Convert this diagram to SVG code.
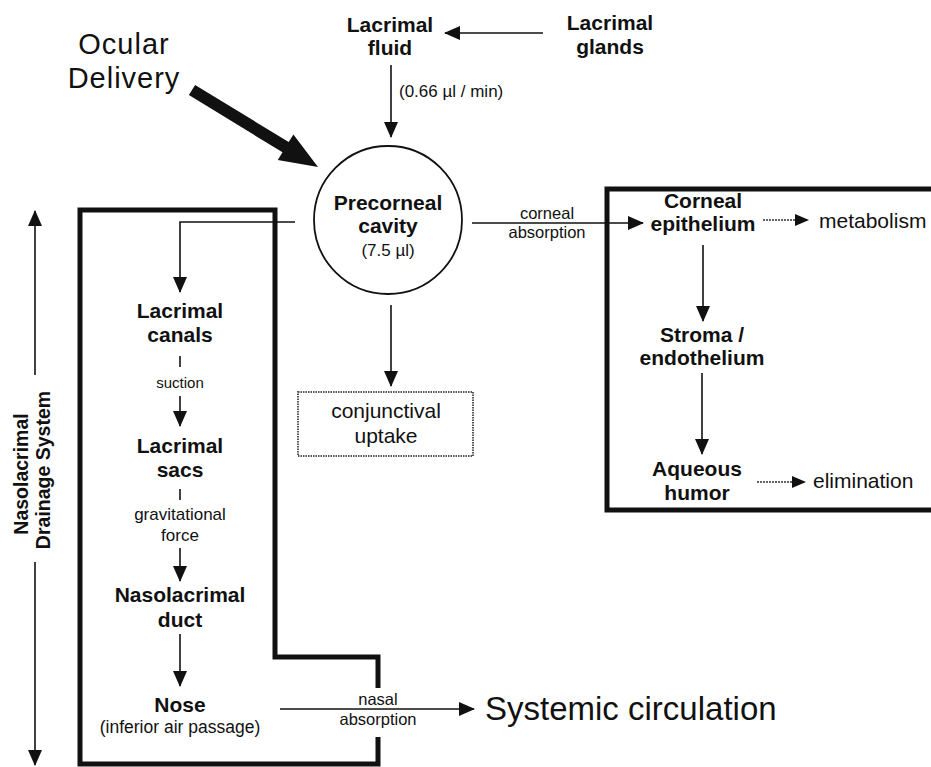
<svg xmlns="http://www.w3.org/2000/svg" width="931" height="767" viewBox="0 0 931 767">
  <style>
    text { font-family: "Liberation Sans", Arial, sans-serif; fill: #111; }
    .b { font-weight: bold; font-size: 21px; text-anchor: middle; }
    .s { font-size: 16.5px; text-anchor: middle; }
    .m { font-size: 21px; }
    .c { text-anchor: middle; }
    .big { font-size: 29px; letter-spacing: 1px; }
    .ln { stroke: #111; stroke-width: 1.6; fill: none; }
    .dot { stroke: #333; stroke-width: 1.6; stroke-dasharray: 2 1; fill: none; }
    .frame { stroke: #111; stroke-width: 5; fill: none; }
  </style>
  <defs>
    <marker id="ah" markerUnits="userSpaceOnUse" markerWidth="16" markerHeight="14" refX="15" refY="7" orient="auto">
      <path d="M0,0 L16,7 L0,14 Z" fill="#111"/>
    </marker>
    <marker id="ahs" markerUnits="userSpaceOnUse" markerWidth="14" markerHeight="12" refX="13" refY="6" orient="auto">
      <path d="M0,0 L14,6 L0,12 Z" fill="#111"/>
    </marker>
  </defs>

  <rect width="931" height="767" fill="#fff"/>

  <!-- region frames -->
  <g id="drainage-frame">
    <path class="frame" d="M378,688 V657 H275 V210 H80 V764 H378 V737"/>
  </g>
  <g id="cornea-frame">
    <rect class="frame" x="607" y="189" width="330" height="321"/>
  </g>

  <!-- connectors -->
  <g id="connectors">
    <polygon points="195.1,84.9 288.7,142.1 293.4,134.4 318,167 277.8,160 282.5,152.3 188.9,95.1" fill="#111"/>
    <line class="ln" x1="543" y1="33" x2="445" y2="33" marker-end="url(#ah)"/>
    <line class="ln" x1="391" y1="65" x2="391" y2="137" marker-end="url(#ah)"/>
    <line class="ln" x1="391" y1="305" x2="391" y2="386" marker-end="url(#ah)"/>
    <line class="ln" x1="472" y1="223" x2="643" y2="223" marker-end="url(#ah)"/>
    <line class="dot" x1="763" y1="220" x2="808" y2="220" marker-end="url(#ahs)"/>
    <line class="ln" x1="703" y1="245" x2="703" y2="321" marker-end="url(#ah)"/>
    <line class="ln" x1="702" y1="373" x2="702" y2="454" marker-end="url(#ah)"/>
    <line class="dot" x1="757" y1="482" x2="805" y2="482" marker-end="url(#ahs)"/>
    <polyline class="ln" points="295,222 180,222 180,292" marker-end="url(#ah)"/>
    <line class="ln" x1="180" y1="356" x2="180" y2="367"/>
    <line class="ln" x1="180" y1="396" x2="180" y2="426" marker-end="url(#ah)"/>
    <line class="ln" x1="180" y1="489" x2="180" y2="500"/>
    <line class="ln" x1="180" y1="548" x2="180" y2="581" marker-end="url(#ah)"/>
    <line class="ln" x1="180" y1="634" x2="180" y2="686" marker-end="url(#ah)"/>
    <line class="ln" x1="280" y1="709" x2="474" y2="709" marker-end="url(#ah)"/>
    <line class="ln" x1="35" y1="375" x2="35" y2="211" marker-end="url(#ah)"/>
    <line class="ln" x1="35" y1="562" x2="35" y2="765" marker-end="url(#ah)"/>
  </g>

  <!-- nodes -->
  <g id="ocular-delivery">
    <text class="big c" x="124" y="54">Ocular</text>
    <text class="big c" x="124" y="88">Delivery</text>
  </g>
  <g id="lacrimal-fluid">
    <text class="b" x="390" y="32">Lacrimal</text>
    <text class="b" x="390" y="55">fluid</text>
    <text x="399" y="97" style="font-size:17px">(0.66 µl / min)</text>
  </g>
  <g id="lacrimal-glands">
    <text class="b" x="610" y="30">Lacrimal</text>
    <text class="b" x="610" y="54">glands</text>
  </g>
  <g id="precorneal-cavity">
    <circle cx="388" cy="220" r="74" fill="none" stroke="#111" stroke-width="1.8"/>
    <text class="b" x="388" y="210">Precorneal</text>
    <text class="b" x="388" y="233">cavity</text>
    <text class="s" x="388" y="256" style="font-size:17px">(7.5 µl)</text>
  </g>
  <g id="corneal-absorption">
    <text class="s" x="547" y="219">corneal</text>
    <text class="s" x="547" y="238">absorption</text>
  </g>
  <g id="conjunctival-uptake">
    <rect x="298" y="392" width="175" height="64" fill="none" stroke="#555" stroke-width="2" stroke-dasharray="1.5 1"/>
    <text class="m c" x="386" y="418">conjunctival</text>
    <text class="m c" x="386" y="443">uptake</text>
  </g>
  <g id="corneal-epithelium">
    <text class="b" x="703" y="208">Corneal</text>
    <text class="b" x="703" y="231">epithelium</text>
  </g>
  <g id="metabolism">
    <text class="m" x="819" y="228">metabolism</text>
  </g>
  <g id="stroma">
    <text class="b" x="702" y="342">Stroma /</text>
    <text class="b" x="702" y="365">endothelium</text>
  </g>
  <g id="aqueous-humor">
    <text class="b" x="697" y="476">Aqueous</text>
    <text class="b" x="697" y="500">humor</text>
  </g>
  <g id="elimination">
    <text class="m" x="813" y="488">elimination</text>
  </g>
  <g id="lacrimal-canals">
    <text class="b" x="180" y="318">Lacrimal</text>
    <text class="b" x="180" y="342">canals</text>
    <text class="s" x="180" y="388" style="font-size:15px">suction</text>
  </g>
  <g id="lacrimal-sacs">
    <text class="b" x="180" y="453">Lacrimal</text>
    <text class="b" x="180" y="477">sacs</text>
    <text class="s" x="180" y="520" style="font-size:17px">gravitational</text>
    <text class="s" x="180" y="541" style="font-size:17px">force</text>
  </g>
  <g id="nasolacrimal-duct">
    <text class="b" x="180" y="602">Nasolacrimal</text>
    <text class="b" x="180" y="627">duct</text>
  </g>
  <g id="nose">
    <text class="b" x="180" y="712">Nose</text>
    <text class="s" x="180" y="733" style="font-size:17.5px">(inferior air passage)</text>
  </g>
  <g id="nasal-absorption">
    <text class="s" x="378" y="705">nasal</text>
    <text class="s" x="378" y="725">absorption</text>
  </g>
  <g id="systemic-circulation">
    <text x="485" y="720" style="font-size:33px">Systemic circulation</text>
  </g>
  <g id="drainage-label">
    <text class="b" transform="translate(28,474) rotate(-90)" style="font-size:19.5px">Nasolacrimal</text>
    <text class="b" transform="translate(50,470) rotate(-90)" style="font-size:19.5px">Drainage System</text>
  </g>
</svg>
